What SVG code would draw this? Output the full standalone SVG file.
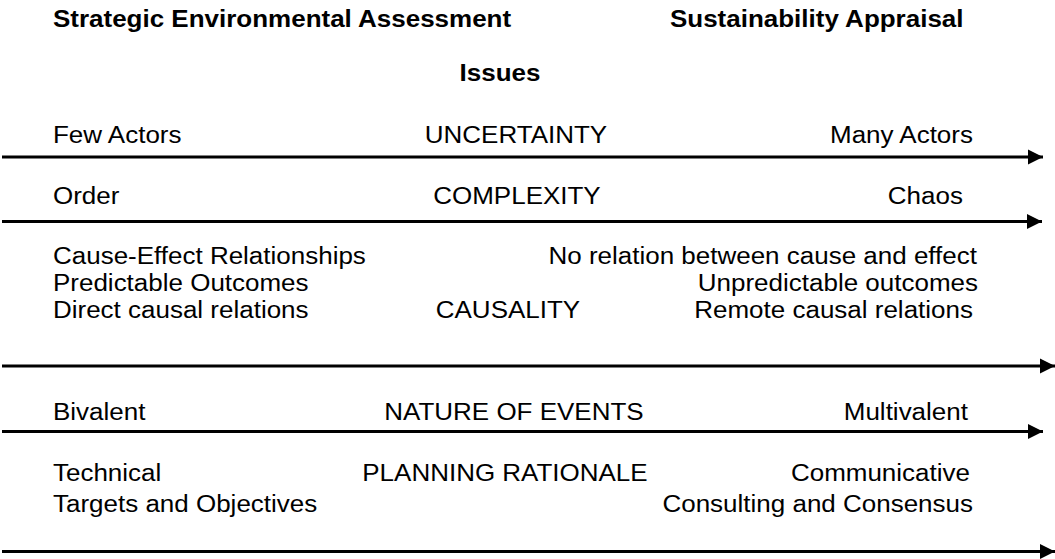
<svg xmlns="http://www.w3.org/2000/svg" width="1055" height="559" viewBox="0 0 1055 559">
<style>
text{font-family:"Liberation Sans",Arial,sans-serif;font-size:24px;fill:#000}
.b{font-weight:bold}
.m{text-anchor:middle}
.e{text-anchor:end}
.ax{stroke:#000;stroke-width:3;fill:none}
</style>
<defs>
<marker id="ah" markerUnits="userSpaceOnUse" markerWidth="15" markerHeight="16" refX="15" refY="8" orient="auto">
<path d="M0,0.5 L15,8 L0,15.5 Z" fill="#000"/>
</marker>
</defs>
<rect width="1055" height="559" fill="#fff"/>
<g id="connectors">
<line class="ax" x1="2" y1="157" x2="1043" y2="157" marker-end="url(#ah)"/>
<line class="ax" x1="2" y1="221.5" x2="1042" y2="221.5" marker-end="url(#ah)"/>
<line class="ax" x1="2" y1="366" x2="1055" y2="366" marker-end="url(#ah)"/>
<line class="ax" x1="2" y1="431.5" x2="1043" y2="431.5" marker-end="url(#ah)"/>
<line class="ax" x1="2" y1="551.5" x2="1055" y2="551.5" marker-end="url(#ah)"/>
</g>
<g transform="scale(1.0833 1)">
<g id="titles">
<text class="b" x="48.92" y="27">Strategic Environmental Assessment</text>
<text class="b" x="618.46" y="27">Sustainability Appraisal</text>
<text class="b m" x="461.54" y="81">Issues</text>
</g>
<g id="uncertainty">
<text x="48.92" y="143">Few Actors</text>
<text class="m" x="476.31" y="143">UNCERTAINTY</text>
<text class="e" x="898.16" y="143">Many Actors</text>
</g>
<g id="complexity">
<text x="48.92" y="204">Order</text>
<text class="m" x="477.23" y="204">COMPLEXITY</text>
<text class="e" x="888.92" y="204">Chaos</text>
</g>
<g id="causality">
<text x="48.92" y="264.5">Cause-Effect Relationships</text>
<text x="48.92" y="291.5">Predictable Outcomes</text>
<text x="48.92" y="318.5">Direct causal relations</text>
<text class="m" x="468.92" y="318.5">CAUSALITY</text>
<text class="e" x="901.85" y="264.5">No relation between cause and effect</text>
<text class="e" x="902.77" y="291.5">Unpredictable outcomes</text>
<text class="e" x="898.16" y="318.5">Remote causal relations</text>
</g>
<g id="nature">
<text x="48.92" y="420">Bivalent</text>
<text class="m" x="474.46" y="420">NATURE OF EVENTS</text>
<text class="e" x="893.54" y="420">Multivalent</text>
</g>
<g id="planning">
<text x="48.92" y="481">Technical</text>
<text x="48.92" y="512">Targets and Objectives</text>
<text class="m" x="466.15" y="481">PLANNING RATIONALE</text>
<text class="e" x="895.38" y="481">Communicative</text>
<text class="e" x="898.16" y="512">Consulting and Consensus</text>
</g>
</g>
</svg>
